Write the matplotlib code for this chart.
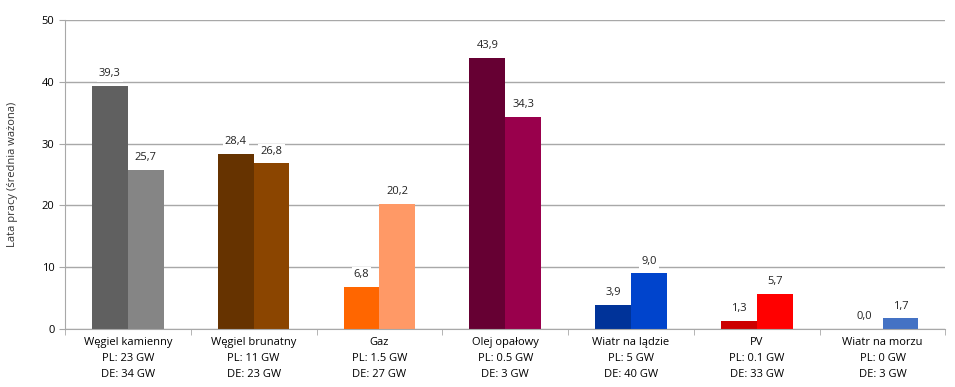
import numpy as np
import matplotlib.pyplot as plt

plt.rcParams['font.family'] = ['Open Sans', 'DejaVu Sans']

categories = ["Węgiel kamienny", "Węgiel brunatny", "Gaz", "Olej opałowy",
              "Wiatr na lądzie", "PV", "Wiatr na morzu"]
pl_capacity = ["23 GW", "11 GW", "1.5 GW", "0.5 GW", "5 GW", "0.1 GW", "0 GW"]
de_capacity = ["34 GW", "23 GW", "27 GW", "3 GW", "40 GW", "33 GW", "3 GW"]
pl_values = [39.3, 28.4, 6.8, 43.9, 3.9, 1.3, 0.0]
de_values = [25.7, 26.8, 20.2, 34.3, 9.0, 5.7, 1.7]
pl_colors = ["#606060", "#663300", "#FF6600", "#660033", "#003399", "#CC0000", "#3366CC"]
de_colors = ["#858585", "#8B4500", "#FF9966", "#99004C", "#0044CC", "#FF0000", "#4472C4"]

fig = plt.figure(figsize=(9.55, 3.87), dpi=100)
ax = fig.add_axes([0.068, 0.150, 0.922, 0.798])

x = np.arange(len(categories))
w = 0.285
ax.bar(x - w / 2, pl_values, w, color=pl_colors, zorder=2)
ax.bar(x + w / 2, de_values, w, color=de_colors, zorder=2)

# value labels with white boxes over the grid
for xs, vals in [(x - w / 2, pl_values), (x + w / 2, de_values)]:
    for xi, v in zip(xs, vals):
        ax.text(xi, v + 1.1, f"{v:.1f}".replace(".", ","), ha="center", va="bottom",
                fontsize=8, color="#222222", zorder=3,
                bbox=dict(facecolor="white", edgecolor="none", pad=1.5))

ax.set_xlim(-0.5, len(categories) - 0.5)
ax.set_ylim(0, 50)
ax.set_yticks(range(0, 51, 10))
ax.yaxis.grid(True, color="#A8A8A8", linewidth=1, zorder=0)
ax.set_axisbelow(True)

labels = [f"{c}\nPL: {p}\nDE: {d}" for c, p, d in zip(categories, pl_capacity, de_capacity)]
ax.set_xticks(x)
ax.set_xticklabels(labels, fontsize=8, linespacing=1.6)
ax.tick_params(axis="x", length=0, pad=6)
ax.set_xticks(np.arange(-0.5, len(categories)), minor=True)
ax.tick_params(axis="x", which="minor", length=4, color="#A8A8A8")
ax.tick_params(axis="y", length=4, color="#A8A8A8", labelsize=8)

ax.set_ylabel("Lata pracy (średnia ważona)", fontsize=8, labelpad=17, color="#333333")

for s in ["top", "right"]:
    ax.spines[s].set_visible(False)
ax.spines["left"].set_color("#A8A8A8")
ax.spines["bottom"].set_color("#A8A8A8")

fig.savefig("out.png", dpi=100)
